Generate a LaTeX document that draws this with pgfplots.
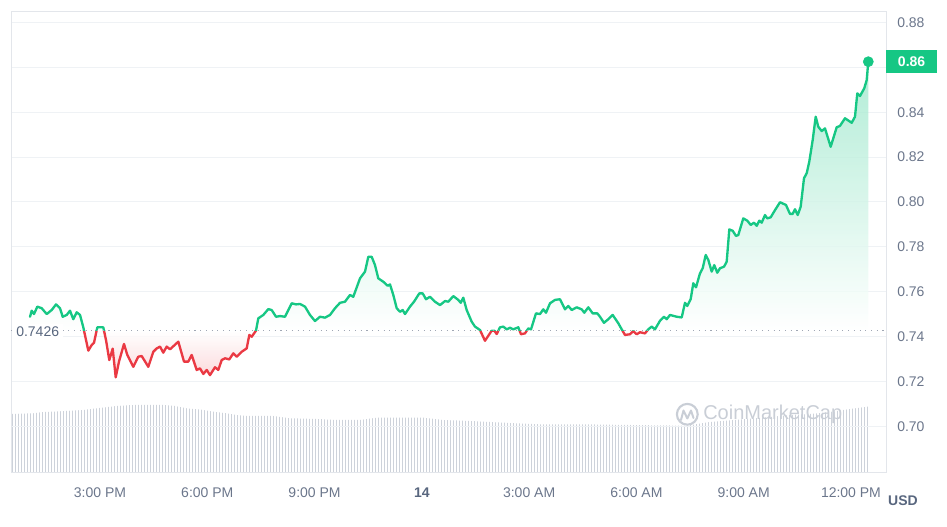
\documentclass[border=0pt]{standalone}
\usepackage{fontspec}
\setmainfont{Liberation Sans}
\usepackage{pgfplots}
\pgfplotsset{compat=1.18}
\usepackage{pgfplotstable}
\usetikzlibrary{patterns.meta}

\definecolor{cmcgreen}{HTML}{16C784}
\definecolor{cmcred}{HTML}{EA3943}
\definecolor{gridc}{HTML}{EFF2F5}
\definecolor{borderc}{HTML}{E3E6EB}
\definecolor{labelc}{HTML}{6B768B}
\definecolor{darkc}{HTML}{58667E}
\definecolor{volc}{HTML}{CDD2DA}
\definecolor{wmc}{HTML}{C9CED6}
\definecolor{dotc}{HTML}{A0A7B4}
\colorlet{gfill}{cmcgreen!42}
\colorlet{rfill}{cmcred!24}

% price range 0.7219..0.8625 maps to 25bp..75bp; open price 0.7426 at 32.36bp
\pgfdeclareverticalshading{greenfade}{100bp}{color(0bp)=(white); color(32.36bp)=(white); color(75bp)=(gfill); color(100bp)=(gfill)}
\pgfdeclareverticalshading{redfade}{100bp}{color(0bp)=(rfill); color(25bp)=(rfill); color(32.36bp)=(white); color(100bp)=(white)}

\pgfplotstableread{
h p
1.043 0.7489
1.090 0.7516
1.154 0.7501
1.247 0.7534
1.370 0.7527
1.510 0.7501
1.649 0.7519
1.770 0.7544
1.881 0.7527
1.957 0.7489
2.069 0.7497
2.161 0.7516
2.253 0.7478
2.348 0.7509
2.441 0.7497
2.533 0.7442
2.673 0.7338
2.768 0.7363
2.832 0.7373
2.925 0.7442
3.092 0.7442
3.168 0.7385
3.260 0.7296
3.355 0.7347
3.439 0.7219
3.531 0.7289
3.671 0.7368
3.763 0.7319
3.931 0.7266
4.071 0.7311
4.166 0.7314
4.351 0.7266
4.491 0.7333
4.586 0.7348
4.678 0.7356
4.770 0.7329
4.865 0.7356
4.958 0.7344
5.190 0.7378
5.349 0.7289
5.469 0.7289
5.564 0.7319
5.704 0.7252
5.796 0.7259
5.889 0.7234
5.984 0.7252
6.076 0.7229
6.216 0.7264
6.308 0.7252
6.403 0.7296
6.496 0.7304
6.616 0.7299
6.728 0.7326
6.823 0.7311
6.963 0.7333
7.102 0.7348
7.175 0.7408
7.242 0.7400
7.362 0.7427
7.427 0.7482
7.567 0.7497
7.706 0.7523
7.801 0.7519
7.922 0.7489
8.034 0.7492
8.173 0.7489
8.266 0.7519
8.361 0.7549
8.481 0.7544
8.593 0.7546
8.733 0.7534
8.872 0.7497
9.012 0.7470
9.152 0.7489
9.292 0.7485
9.432 0.7497
9.572 0.7527
9.711 0.7551
9.851 0.7556
9.991 0.7586
10.083 0.7578
10.271 0.7660
10.411 0.7690
10.503 0.7756
10.598 0.7756
10.690 0.7719
10.782 0.7660
10.922 0.7645
11.045 0.7627
11.110 0.7633
11.202 0.7586
11.297 0.7527
11.389 0.7511
11.465 0.7519
11.529 0.7501
11.669 0.7534
11.781 0.7556
11.929 0.7593
12.024 0.7593
12.116 0.7567
12.228 0.7578
12.368 0.7556
12.508 0.7541
12.648 0.7559
12.740 0.7556
12.880 0.7581
13.020 0.7564
13.087 0.7551
13.159 0.7574
13.254 0.7519
13.394 0.7467
13.487 0.7445
13.626 0.7430
13.766 0.7382
13.954 0.7427
14.026 0.7427
14.093 0.7412
14.186 0.7442
14.278 0.7445
14.373 0.7433
14.465 0.7440
14.558 0.7433
14.697 0.7442
14.773 0.7411
14.885 0.7415
14.977 0.7437
15.053 0.7433
15.192 0.7504
15.304 0.7501
15.396 0.7522
15.472 0.7507
15.584 0.7549
15.724 0.7564
15.863 0.7567
16.003 0.7522
16.096 0.7537
16.191 0.7519
16.330 0.7531
16.470 0.7522
16.543 0.7507
16.655 0.7531
16.778 0.7504
16.907 0.7504
16.982 0.7489
17.094 0.7462
17.214 0.7478
17.337 0.7497
17.494 0.7460
17.589 0.7433
17.681 0.7408
17.821 0.7411
17.913 0.7425
18.008 0.7411
18.101 0.7420
18.241 0.7415
18.333 0.7433
18.428 0.7445
18.520 0.7433
18.660 0.7471
18.772 0.7489
18.847 0.7478
18.940 0.7497
19.127 0.7489
19.267 0.7486
19.359 0.7551
19.423 0.7537
19.518 0.7567
19.591 0.7638
19.667 0.7620
19.778 0.7682
19.854 0.7705
19.938 0.7764
20.011 0.7742
20.106 0.7690
20.178 0.7719
20.262 0.7685
20.338 0.7705
20.450 0.7712
20.525 0.7734
20.598 0.7878
20.693 0.7872
20.785 0.7849
20.849 0.7853
20.989 0.7927
21.101 0.7917
21.196 0.7898
21.289 0.7908
21.364 0.7894
21.437 0.7917
21.504 0.7908
21.596 0.7942
21.660 0.7927
21.756 0.7932
21.876 0.7964
22.016 0.7999
22.183 0.7987
22.295 0.7947
22.371 0.7947
22.435 0.7968
22.511 0.7942
22.594 0.7979
22.687 0.8106
22.762 0.8128
22.835 0.8180
22.930 0.8276
23.014 0.8380
23.087 0.8335
23.182 0.8316
23.274 0.8328
23.433 0.8246
23.601 0.8333
23.693 0.8339
23.833 0.8373
24.021 0.8353
24.113 0.8380
24.177 0.8484
24.253 0.8472
24.373 0.8507
24.440 0.8543
24.485 0.8625
}\pricedata

\pgfplotstableread{
h v
0.511 58.3
1.135 59.0
1.414 60.3
1.881 61.0
2.533 62.3
2.908 64.0
3.467 66.3
3.931 67.3
4.770 67.3
5.050 66.6
5.424 64.0
5.796 62.8
6.168 60.6
6.543 59.0
6.823 57.3
7.102 56.3
7.846 56.3
8.313 54.0
9.060 53.3
9.619 52.3
10.271 52.3
10.738 54.6
12.041 54.6
12.600 52.3
13.347 51.3
14.465 49.3
15.304 48.0
16.423 48.0
17.821 47.3
19.406 46.6
20.058 50.3
20.897 52.8
21.736 55.3
22.295 57.3
22.855 58.3
23.414 60.3
23.973 63.3
24.505 65.8
}\voldata

\pgfplotsset{
  common/.style={
    anchor=south west, scale only axis, width=656.25pt,
    xmin=0.511, xmax=24.98},
}

\begin{document}
\begin{tikzpicture}[x=0.75pt,y=0.75pt]
\path[use as bounding box] (0,0) rectangle (947,527);

% volume bars (background)
\begin{axis}[common, at={(8.25pt,41.025pt)}, height=345.45pt,
  ymin=0, ymax=460.6, hide axis]
\addplot[draw=none, pattern={Lines[angle=90,distance=2.25pt,line width=0.7pt]}, pattern color=volc]
  table[x=h,y=v]{\voldata} \closedcycle;
\end{axis}

% price axis: frame, grid, ticks
\begin{axis}[common, at={(8.25pt,41.025pt)}, height=345.45pt,
  ymin=0.6796, ymax=0.88477,
  axis line style={draw=borderc, line width=0.75pt},
  major tick length=0pt,
  ymajorgrids, grid style={draw=gridc, line width=0.75pt},
  ytick={0.70,0.72,0.74,0.76,0.78,0.80,0.82,0.84,0.86,0.88},
  yticklabels={0.70,0.72,0.74,0.76,0.78,0.80,0.82,0.84,,0.88},
  yticklabel pos=right,
  yticklabel style={anchor=west, inner sep=0pt, xshift=8.25pt, text=labelc, font=\fontsize{10.5}{12}\selectfont},
  xtick={3,6,9,12,15,18,21,24},
  xticklabels={3:00 PM,6:00 PM,9:00 PM,{\bfseries\color{darkc}14},3:00 AM,6:00 AM,9:00 AM,12:00 PM},
  xticklabel style={anchor=base, inner sep=0pt, yshift=-18.75pt, text=labelc, font=\fontsize{10.5}{12}\selectfont},
]
\addplot[draw=none, forget plot] coordinates {(1,0.70) (24,0.86)};
\end{axis}

% below the open price (red), clipped to the lower band
\begin{axis}[common, at={(8.25pt,41.025pt)}, height=106.05pt,
  ymin=0.6796, ymax=0.7426, hide axis]
\addplot[draw=none, shade, shading=redfade, fill opacity=0.8]
  table[x=h,y=p]{\pricedata} -- (24.485,0.7426) -- (1.043,0.7426) -- cycle;
\addplot[cmcred, line width=1.75pt, line join=round, line cap=round]
  table[x=h,y=p]{\pricedata};
\end{axis}

% above the open price (green), clipped to the upper band
\begin{axis}[common, at={(8.25pt,147.075pt)}, height=239.4pt,
  ymin=0.7426, ymax=0.88477, hide axis]
\addplot[draw=none, shade, shading=greenfade, fill opacity=0.8]
  table[x=h,y=p]{\pricedata} -- (24.485,0.7426) -- (1.043,0.7426) -- cycle;
\addplot[cmcgreen, line width=1.75pt, line join=round, line cap=round]
  table[x=h,y=p]{\pricedata};
\addplot[only marks, mark=*, mark size=3.8pt, color=cmcgreen] coordinates {(24.485,0.8625)};
\end{axis}

% dotted open-price line on top
\begin{axis}[common, at={(8.25pt,41.025pt)}, height=345.45pt,
  ymin=0.6796, ymax=0.88477, hide axis]
\addplot[draw=dotc, line width=0.9pt, dash pattern=on 0.8pt off 3.5pt]
  coordinates {(0.511,0.7426) (24.98,0.7426)};
\end{axis}

% baseline label
\node[anchor=west, fill=white, inner xsep=3pt, inner ysep=2pt, text=darkc,
  font=\fontsize{10.5}{12}\selectfont] at (12,195.5) {0.7426};
% current price box
\node[anchor=west, fill=cmcgreen, text=white, inner sep=0pt,
  minimum width=38pt, minimum height=17pt, font=\bfseries\fontsize{10.5}{12}\selectfont]
  at (886,465.65) {0.86};
% currency
\node[text=darkc, font=\bfseries\fontsize{10.5}{12}\selectfont] at (903,26.3) {USD};
% watermark
\draw[wmc, line width=1.6pt] (687.3,112.7) circle (7.8pt);
\draw[wmc, line width=1.5pt, line join=round, line cap=round]
  (681,107) -- (683.5,116.5) -- (687.3,108.5) -- (691,116.5) -- (693.5,109);
\node[anchor=west, inner sep=0pt, text=wmc, font=\fontsize{15}{18}\selectfont] at (703,112.7) {CoinMarketCap};
\end{tikzpicture}
\end{document}
